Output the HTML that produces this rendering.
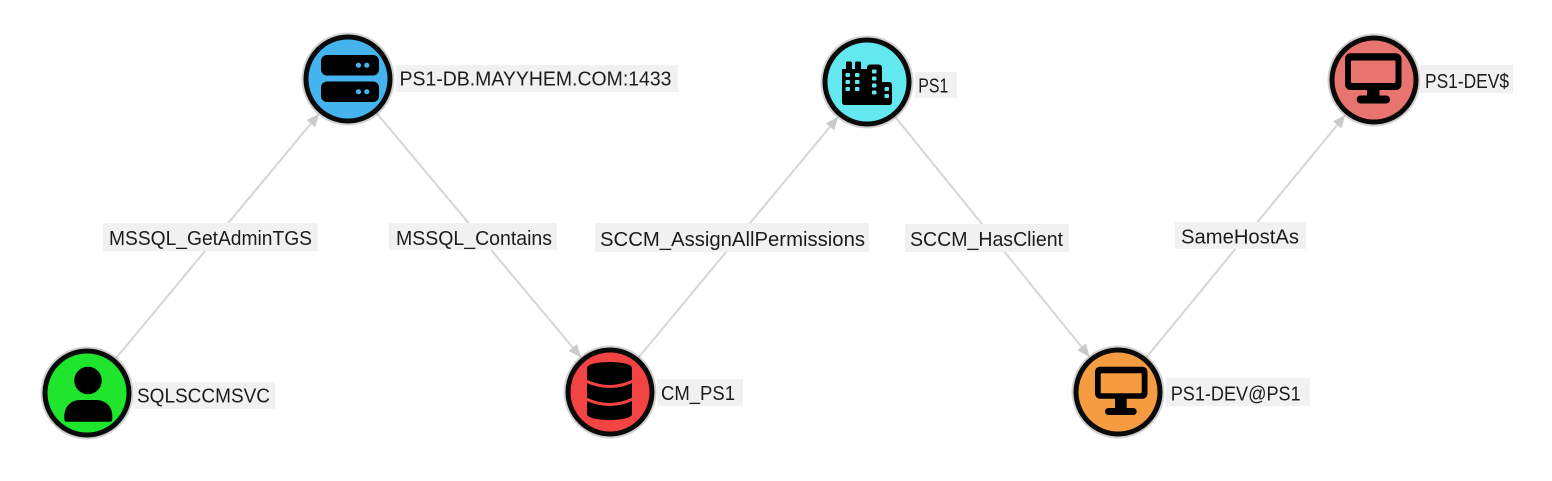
<!DOCTYPE html>
<html>
<head>
<meta charset="utf-8">
<style>
  html,body{margin:0;padding:0;background:#ffffff;}
  body{width:1552px;height:481px;overflow:hidden;}
  svg{display:block;}
  text{font-family:"Liberation Sans", Arial, sans-serif;font-size:20px;fill:#1c1c1c;}
</style>
</head>
<body>
<svg width="1552" height="481" viewBox="0 0 1552 481" xmlns="http://www.w3.org/2000/svg">
  <rect x="0" y="0" width="1552" height="481" fill="#ffffff"/>

  <!-- edges -->
  <g stroke="#d6d6d6" stroke-width="2" fill="none">
    <line x1="115.8" y1="358.4" x2="310.9" y2="123.6"/>
    <line x1="376.9" y1="113.5" x2="572.8" y2="347.5"/>
    <line x1="638.7" y1="357.4" x2="830.0" y2="126.7"/>
    <line x1="895.3" y1="117.0" x2="1081.5" y2="346.9"/>
    <line x1="1146.5" y1="357.2" x2="1337.3" y2="124.9"/>
  </g>
  <!-- arrowheads -->
  <g fill="#cacaca">
    <polygon points="319.2,113.6 315.1,127.1 306.7,120.1"/>
    <polygon points="581.1,357.5 568.6,351.0 577.0,344.0"/>
    <polygon points="838.3,116.7 834.2,130.2 825.8,123.2"/>
    <polygon points="1089.7,357.0 1077.2,350.4 1085.8,343.4"/>
    <polygon points="1345.5,114.8 1341.6,128.4 1333.0,121.4"/>
  </g>

  <!-- edge labels -->
  <g>
    <rect x="103" y="223" width="215" height="28" fill="#f1f1f1"/>
    <text x="109" y="245" textLength="203" lengthAdjust="spacingAndGlyphs">MSSQL_GetAdminTGS</text>
    <rect x="389" y="223" width="168" height="27" fill="#f1f1f1"/>
    <text x="396" y="245" textLength="156" lengthAdjust="spacingAndGlyphs">MSSQL_Contains</text>
    <rect x="595" y="223" width="274" height="29" fill="#f1f1f1"/>
    <text x="600" y="246" textLength="265" lengthAdjust="spacingAndGlyphs">SCCM_AssignAllPermissions</text>
    <rect x="905" y="224" width="164" height="28" fill="#f1f1f1"/>
    <text x="910" y="246" textLength="153" lengthAdjust="spacingAndGlyphs">SCCM_HasClient</text>
    <rect x="1175" y="222" width="131" height="27" fill="#f1f1f1"/>
    <text x="1181" y="243.5" textLength="118" lengthAdjust="spacingAndGlyphs">SameHostAs</text>
  </g>

  <!-- nodes: halo + circle -->
  <g stroke="rgba(0,0,0,0.18)" stroke-width="2" fill="none">
    <circle cx="87" cy="393" r="45.5"/>
    <circle cx="348" cy="79" r="45.5"/>
    <circle cx="610" cy="392" r="45.5"/>
    <circle cx="867" cy="82" r="45.5"/>
    <circle cx="1118" cy="392" r="45.5"/>
    <circle cx="1374" cy="80" r="45.5"/>
  </g>
  <g stroke="#0a0a0a" stroke-width="5">
    <circle cx="87" cy="393" r="42" fill="#1fe52c"/>
    <circle cx="348" cy="79" r="42" fill="#44b3ee"/>
    <circle cx="610" cy="392" r="42" fill="#f34443"/>
    <circle cx="867" cy="82" r="42" fill="#64e8ef"/>
    <circle cx="1118" cy="392" r="42" fill="#f49c3f"/>
    <circle cx="1374" cy="80" r="42" fill="#e8746f"/>
  </g>

  <!-- user icon (SQLSCCMSVC) -->
  <g fill="#000">
    <circle cx="88" cy="380.5" r="13.8"/>
    <path d="M64.3,419 L64.3,416 C64.3,406.5 71,400 80.5,400 L96,400 C105.5,400 112.3,406.5 112.3,416 L112.3,419 Q112.3,421.8 109.5,421.8 L67,421.8 Q64.3,421.8 64.3,419 Z"/>
  </g>

  <!-- server icon (PS1-DB) -->
  <g>
    <rect x="321" y="55" width="58" height="20.5" rx="6" fill="#000"/>
    <rect x="321" y="81.5" width="58" height="20.5" rx="6" fill="#000"/>
    <circle cx="358.5" cy="65.2" r="2.6" fill="#44b3ee"/>
    <circle cx="366.8" cy="65.2" r="2.6" fill="#44b3ee"/>
    <circle cx="358.5" cy="91.7" r="2.6" fill="#44b3ee"/>
    <circle cx="366.8" cy="91.7" r="2.6" fill="#44b3ee"/>
  </g>

  <!-- database icon (CM_PS1) -->
  <g>
    <path d="M587,368 C587,360 632,360 632,368 L632,414 C632,422 587,422 587,414 Z" fill="#000"/>
    <path d="M586,381 Q609.5,392 633,381" stroke="#f34443" stroke-width="3" fill="none"/>
    <path d="M586,399 Q609.5,410 633,399" stroke="#f34443" stroke-width="3" fill="none"/>
  </g>

  <!-- city icon (PS1) -->
  <g>
    <rect x="846" y="61.5" width="6" height="9" rx="1.5" fill="#000"/>
    <rect x="855" y="61.5" width="6" height="9" rx="1.5" fill="#000"/>
    <path d="M842,69 L868,69 L868,105 L845,105 Q842,105 842,102 Z" fill="#000"/>
    <path d="M867,68 Q867,64.5 870.5,64.5 L878.5,64.5 Q882,64.5 882,68 L882,105 L867,105 Z" fill="#000"/>
    <path d="M881,82 L888.5,82 Q892,82 892,85.5 L892,102 Q892,105 889,105 L881,105 Z" fill="#000"/>
    <g fill="#64e8ef">
      <rect x="845.5" y="73" width="4.5" height="4" rx="1"/>
      <rect x="855" y="73" width="4.5" height="4" rx="1"/>
      <rect x="845.5" y="80" width="4.5" height="4" rx="1"/>
      <rect x="855" y="80" width="4.5" height="4" rx="1"/>
      <rect x="845.5" y="87" width="4.5" height="4" rx="1"/>
      <rect x="855" y="87" width="4.5" height="4" rx="1"/>
      <rect x="872" y="69.5" width="4.5" height="4" rx="1"/>
      <rect x="872" y="76.5" width="4.5" height="4" rx="1"/>
      <rect x="872" y="83.5" width="4.5" height="4" rx="1"/>
      <rect x="872" y="90.5" width="4.5" height="4" rx="1"/>
      <rect x="884.5" y="87" width="4.5" height="4" rx="1"/>
      <rect x="884.5" y="94" width="4.5" height="4" rx="1"/>
    </g>
  </g>

  <!-- monitor icon (PS1-DEV@PS1) -->
  <g>
    <rect x="1095" y="366.7" width="52.5" height="32" rx="5" fill="#000"/>
    <rect x="1100.7" y="373.3" width="41" height="20" rx="1" fill="#f49c3f"/>
    <rect x="1115" y="397" width="11.7" height="12" fill="#000"/>
    <rect x="1105" y="408" width="31.7" height="7" rx="3.5" fill="#000"/>
  </g>

  <!-- monitor icon (PS1-DEV$) -->
  <g>
    <rect x="1345" y="53.3" width="56.5" height="36.7" rx="5.5" fill="#000"/>
    <rect x="1351" y="60.5" width="44.5" height="22.5" rx="1" fill="#e8746f"/>
    <rect x="1367" y="89" width="12.5" height="7" fill="#000"/>
    <rect x="1356.7" y="95.5" width="33.3" height="8" rx="4" fill="#000"/>
  </g>

  <!-- node labels -->
  <g>
    <rect x="133" y="382" width="142" height="27" fill="#f1f1f1"/>
    <text x="137" y="402.5" textLength="133" lengthAdjust="spacingAndGlyphs">SQLSCCMSVC</text>
    <rect x="396" y="65" width="282" height="27" fill="#f1f1f1"/>
    <text x="399.5" y="85.5" textLength="272" lengthAdjust="spacingAndGlyphs">PS1-DB.MAYYHEM.COM:1433</text>
    <rect x="657" y="379" width="86" height="27" fill="#f1f1f1"/>
    <text x="661" y="400" textLength="74" lengthAdjust="spacingAndGlyphs">CM_PS1</text>
    <rect x="915" y="72" width="42" height="26" fill="#f1f1f1"/>
    <text x="918.3" y="92.5" textLength="30" lengthAdjust="spacingAndGlyphs">PS1</text>
    <rect x="1166" y="378" width="144" height="28" fill="#f1f1f1"/>
    <text x="1170.7" y="400.5" textLength="130" lengthAdjust="spacingAndGlyphs">PS1-DEV@PS1</text>
    <rect x="1420" y="65" width="93" height="28" fill="#f1f1f1"/>
    <text x="1425" y="88" textLength="84" lengthAdjust="spacingAndGlyphs">PS1-DEV$</text>
  </g>
</svg>
</body>
</html>
